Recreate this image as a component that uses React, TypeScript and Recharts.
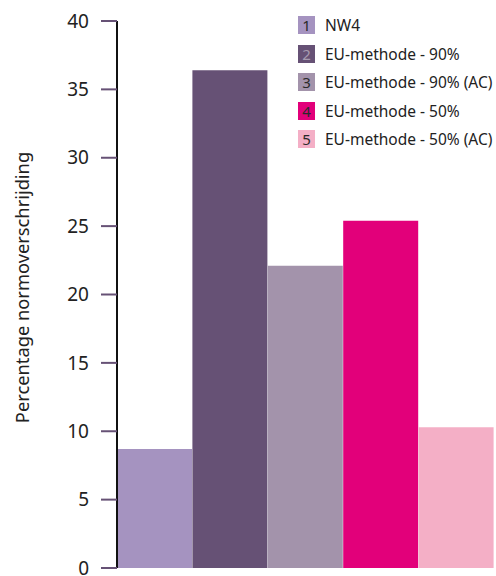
import React from "react";
import { BarChart, Bar, XAxis, YAxis, Cell } from "recharts";

const methods = [
  "NW4",
  "EU-methode - 90%",
  "EU-methode - 90% (AC)",
  "EU-methode - 50%",
  "EU-methode - 50% (AC)",
];
const exceedance = [8.7, 36.4, 22.1, 25.4, 10.3];
const colors = ["#a593c0", "#665175", "#a393ab", "#e2007a", "#f4afc6"];
const numberColors = ["#2a2a2a", "#a89cb0", "#2a2a2a", "#2a2a2a", "#2a2a2a"];
const yTicks = [0, 5, 10, 15, 20, 25, 30, 35, 40];

const data = methods.map((name, i) => ({ name, value: exceedance[i] }));

const FONT = "'Noto Sans', 'Open Sans', sans-serif";

const LegendList = () => (
  <div
    style={{
      position: "absolute",
      left: 298,
      top: 11,
      fontFamily: FONT,
    }}
  >
    {methods.map((m, i) => (
      <div
        key={m}
        style={{ display: "flex", alignItems: "center", height: 28.5 }}
      >
        <div
          style={{
            width: 17,
            height: 18,
            background: colors[i],
            color: numberColors[i],
            fontSize: 15,
            lineHeight: "18px",
            textAlign: "center",
            marginRight: 10,
          }}
        >
          {i + 1}
        </div>
        <span style={{ fontSize: 15.5, color: "#222", whiteSpace: "nowrap" }}>
          {m}
        </span>
      </div>
    ))}
  </div>
);

export default function App() {
  return (
    <div
      style={{
        position: "absolute",
        left: 0,
        top: 0,
        width: 496,
        height: 576,
        background: "#fff",
      }}
    >
      <BarChart
        width={496}
        height={576}
        data={data}
        margin={{ top: 21, right: 2, bottom: 8, left: 0 }}
        barCategoryGap={0}
      >
        <XAxis
          dataKey="name"
          height={0}
          tick={false}
          tickLine={false}
          axisLine={{ stroke: "#111", strokeWidth: 2 }}
        />
        <YAxis
          width={117}
          domain={[0, 40]}
          ticks={yTicks}
          interval={0}
          tickSize={16}
          tickMargin={12}
          tickLine={{ stroke: "#665175", strokeWidth: 2 }}
          axisLine={{ stroke: "#111", strokeWidth: 2 }}
          tick={{ fill: "#222", fontSize: 19, fontFamily: FONT }}
          label={{
            value: "Percentage normoverschrijding",
            angle: -90,
            position: "insideLeft",
            dx: 18,
            dy: -7,
            style: {
              textAnchor: "middle",
              fill: "#222",
              fontSize: 18.3,
              fontFamily: FONT,
            },
          }}
        />
        <Bar dataKey="value" isAnimationActive={false}>
          {data.map((d, i) => (
            <Cell key={d.name} fill={colors[i]} />
          ))}
        </Bar>
      </BarChart>
      <LegendList />
    </div>
  );
}
